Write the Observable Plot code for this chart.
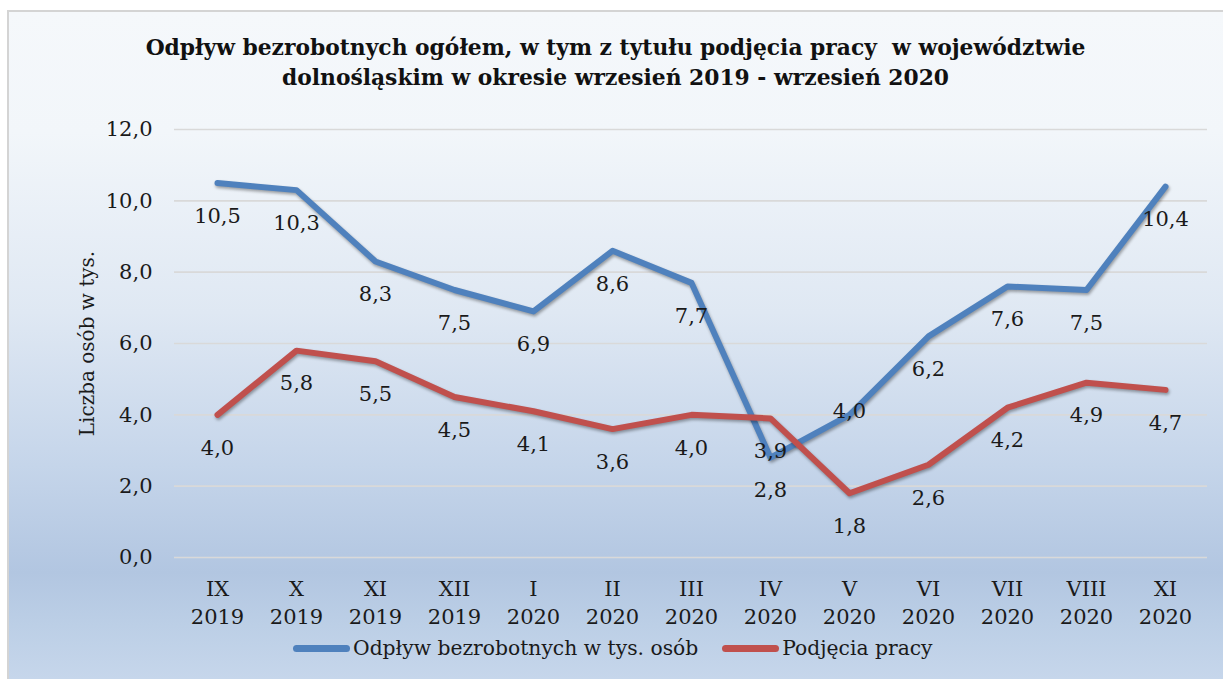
<!DOCTYPE html>
<html><head><meta charset="utf-8">
<script src="https://cdn.jsdelivr.net/npm/d3@7"></script>
<script src="https://cdn.jsdelivr.net/npm/@observablehq/plot@0.6"></script>
<style>
body{margin:0;background:#fff;width:1223px;height:679px;overflow:hidden;position:relative;}
#frame{position:absolute;left:7px;top:10px;width:1216px;height:669px;box-sizing:border-box;border-left:2px solid #d4d4d4;border-top:2px solid #d4d4d4;
 background:linear-gradient(to bottom,#f5f8fb 0%,#f2f6fa 18%,#dfe8f3 45%,#c5d5ea 68%,#b2c6e1 84%,#bccfe6 92%,#c6d6eb 100%);}
#title{position:absolute;left:8px;width:1215px;top:33px;text-align:center;font-family:"DejaVu Serif",serif;font-weight:bold;font-size:21.8px;line-height:30px;white-space:pre;color:#111;}
#chart{position:absolute;left:0;top:100px;}
#legend{position:absolute;left:293px;top:636px;height:24px;display:flex;align-items:center;font-family:"DejaVu Serif",serif;font-size:20.3px;color:#1a1a1a;white-space:nowrap;}
.sw{display:inline-block;width:57px;height:7px;border-radius:4px;margin-right:3px;}
.item{display:flex;align-items:center;margin-right:24px;}
</style></head>
<body>
<div id="frame"></div>
<div id="title"></div>
<div id="chart"></div>
<div id="legend"></div>
<script>
const titleText = "Odpływ bezrobotnych ogółem, w tym z tytułu podjęcia pracy  w województwie\ndolnośląskim w okresie wrzesień 2019 - wrzesień 2020";
const months = ["IX\n2019","X\n2019","XI\n2019","XII\n2019","I\n2020","II\n2020","III\n2020","IV\n2020","V\n2020","VI\n2020","VII\n2020","VIII\n2020","XI\n2020"];
const odplyw = [10.5,10.3,8.3,7.5,6.9,8.6,7.7,2.8,4.0,6.2,7.6,7.5,10.4];
const podjecia = [4.0,5.8,5.5,4.5,4.1,3.6,4.0,3.9,1.8,2.6,4.2,4.9,4.7];
const series = ["Odpływ bezrobotnych w tys. osób","Podjęcia pracy"];
const colors = ["#4f81bd","#c0504d"];
const yTicks = [0,2,4,6,8,10,12];
const yLabel = "Liczba osób w tys.";

document.getElementById("title").textContent = titleText;

const data = [];
months.forEach((m,i)=>{
  data.push({m, v:odplyw[i], s:series[0], i});
  data.push({m, v:podjecia[i], s:series[1], i});
});
const fmt = v => v.toFixed(1).replace(".",",");
const isRaised = d => d.s===series[0] && d.i===8;
const FS = 21;

const chart = Plot.plot({
  width:1223, height:540,
  marginLeft:174, marginRight:16, marginTop:29, marginBottom:83,
  style:{background:"transparent", fontFamily:"'DejaVu Serif', serif", fontSize:FS+"px", color:"#1a1a1a", overflow:"visible"},
  x:{type:"point", domain:months, padding:0.5},
  y:{domain:[0,12]},
  color:{domain:series, range:colors},
  marks:[
    Plot.gridY(yTicks,{stroke:"#d9d9d9", strokeOpacity:1, strokeWidth:1.6}),
    Plot.axisY(yTicks,{tickSize:0, tickPadding:22, tickFormat:fmt, fontSize:FS, label:null}),
    Plot.axisX({tickSize:0, tickPadding:19, fontSize:FS, lineHeight:1.33, label:null}),
    Plot.text([yLabel],{frameAnchor:"left", textAnchor:"middle", rotate:-90, dx:-87, fontSize:20, fill:"#1a1a1a"}),
    Plot.line(data,{x:"m", y:"v", stroke:"s", z:"s", strokeWidth:6, strokeLinecap:"round", strokeLinejoin:"round"}),
    Plot.text(data.filter(d=>!isRaised(d)),{x:"m", y:"v", text:d=>fmt(d.v), dy:33, fontSize:FS, fill:"#1a1a1a"}),
    Plot.text(data.filter(isRaised),{x:"m", y:"v", text:d=>fmt(d.v), dy:-4, fontSize:FS, fill:"#1a1a1a"})
  ]
});
d3.select(chart).selectAll("g[aria-label=line] path").style("filter","drop-shadow(1px 2px 1.5px rgba(0,0,0,0.35))");
document.getElementById("chart").appendChild(chart);

const legend = document.getElementById("legend");
series.forEach((s,k)=>{
  const it = document.createElement("span"); it.className="item";
  const sw = document.createElement("span"); sw.className="sw"; sw.style.background=colors[k];
  const tx = document.createElement("span"); tx.textContent=s;
  it.appendChild(sw); it.appendChild(tx); legend.appendChild(it);
});
</script>
</body></html>
